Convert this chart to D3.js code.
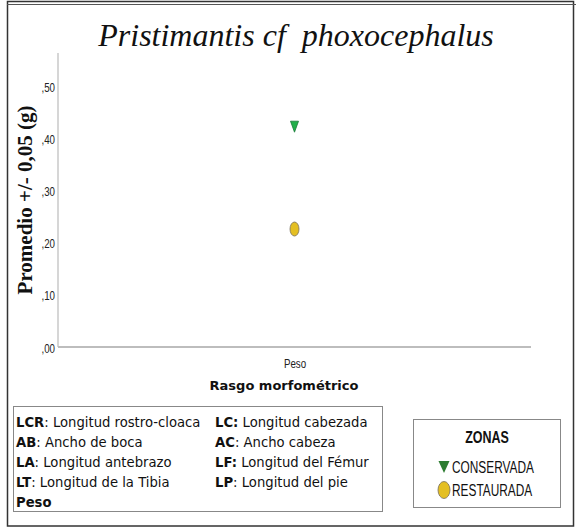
<!DOCTYPE html>
<html><head><meta charset="utf-8">
<script src="https://cdn.jsdelivr.net/npm/d3@7"></script>
<style>body{margin:0;background:#fff}svg{display:block}</style>
</head><body>
<script>
const categories = ["Peso"];
const zones = ["CONSERVADA", "RESTAURADA"];
const conservada = [0.423];
const restaurada = [0.226];
const yTicks = [0, 0.1, 0.2, 0.3, 0.4, 0.5];
const yTickLabels = [",00", ",10", ",20", ",30", ",40", ",50"];
const abbrevLeft = [["LCR", ": Longitud rostro-cloaca"], ["AB", ": Ancho de boca"], ["LA", ": Longitud antebrazo"], ["LT", ": Longitud de la Tibia"], ["Peso", ""]];
const abbrevRight = [["LC:", " Longitud cabezada"], ["AC", ": Ancho cabeza"], ["LF:", " Longitud del Fémur"], ["LP", ": Longitud del pie"]];

const W = 576, H = 529;
const svg = d3.select("body").append("svg").attr("width", W).attr("height", H);
const NARROW = "Liberation Sans Narrow, Liberation Sans, Arial";

// outer frame
svg.append("rect").attr("x", 7.5).attr("y", 1.5).attr("width", 566).attr("height", 524.5)
  .attr("fill", "none").attr("stroke", "#333").attr("stroke-width", 1.5);
svg.append("line").attr("x1", 7).attr("x2", 576).attr("y1", 4.5).attr("y2", 4.5).attr("stroke", "#555").attr("stroke-width", 1);

const x = d3.scalePoint().domain(categories).range([58, 531]).padding(0.5);
const y = d3.scaleLinear().domain([0, 0.5]).range([347, 86]);

// title
svg.append("text").attr("x", 296).attr("y", 46).attr("text-anchor", "middle")
  .attr("font-family", "Liberation Serif").attr("font-style", "italic").attr("font-size", 32)
  .attr("fill", "#111").text("Pristimantis cf\u00a0\u00a0phoxocephalus");

// axes lines
svg.append("line").attr("x1", 58).attr("x2", 58).attr("y1", 53).attr("y2", 347).attr("stroke", "#c8c8c8").attr("stroke-width", 1.5);
svg.append("line").attr("x1", 58).attr("x2", 531).attr("y1", 347).attr("y2", 347).attr("stroke", "#bdbdbd").attr("stroke-width", 2);

// y tick labels
const yAxis = d3.axisLeft(y).tickValues(yTicks).tickSize(0).tickPadding(0)
  .tickFormat((d, i) => yTickLabels[i]);
const gy = svg.append("g").attr("transform", "translate(55,1)").call(yAxis);
gy.select(".domain").remove();
gy.selectAll("text").attr("font-family", NARROW).attr("font-size", 13).attr("fill", "#222")
  .attr("x", 0).attr("transform", "scale(0.75,1)");

// x tick label
const xAxis = d3.axisBottom(x).tickSize(0).tickPadding(0);
const gx = svg.append("g").attr("transform", "translate(0,347)").call(xAxis);
gx.select(".domain").remove();
gx.selectAll(".tick text").attr("font-family", NARROW).attr("font-size", 13).attr("fill", "#222")
  .attr("y", 21).attr("dy", null).attr("transform", "scale(0.75,1)");

// axis titles
svg.append("text").attr("transform", "translate(32,200) rotate(-90)").attr("text-anchor", "middle")
  .attr("font-family", "Liberation Serif").attr("font-weight", "bold").attr("font-size", 21)
  .attr("fill", "#111").text("Promedio +/- 0,05 (g)");
svg.append("text").attr("x", 284).attr("y", 390).attr("text-anchor", "middle")
  .attr("font-family", "DejaVu Sans").attr("font-weight", "bold").attr("font-size", 13)
  .attr("fill", "#111").text("Rasgo morfométrico");

// markers
svg.selectAll(".cons").data(conservada).join("path").attr("class", "cons")
  .attr("d", "M-4,-5 L4,-5 L0,6 Z")
  .attr("transform", (d, i) => `translate(${x(categories[i])},${y(d)})`)
  .attr("fill", "#22b04a").attr("stroke", "#1a7a3a").attr("stroke-width", 0.8);
svg.selectAll(".rest").data(restaurada).join("ellipse").attr("class", "rest")
  .attr("cx", (d, i) => x(categories[i])).attr("cy", d => y(d))
  .attr("rx", 4.5).attr("ry", 7)
  .attr("fill", "#e4bf22").attr("stroke", "#7a7060").attr("stroke-width", 0.8);

// abbreviation legend box
svg.append("rect").attr("x", 13.5).attr("y", 406.5).attr("width", 369).attr("height", 105)
  .attr("fill", "#fff").attr("stroke", "#888").attr("stroke-width", 1);
function writeRows(rows, x0) {
  rows.forEach((r, i) => {
    const t = svg.append("text").attr("x", x0).attr("y", 427 + i * 20)
      .attr("font-family", "DejaVu Sans").attr("font-size", 13.2).attr("fill", "#111");
    t.append("tspan").attr("font-weight", "bold").text(r[0]);
    t.append("tspan").text(r[1]);
  });
}
writeRows(abbrevLeft, 16);
writeRows(abbrevRight, 215);

// zones legend
svg.append("rect").attr("x", 413.5).attr("y", 419.5).attr("width", 147).attr("height", 88)
  .attr("fill", "#fff").attr("stroke", "#888").attr("stroke-width", 1);
svg.append("text").attr("transform", "translate(487,443) scale(0.78,1)").attr("text-anchor", "middle")
  .attr("font-family", NARROW).attr("font-weight", "bold").attr("font-size", 16)
  .attr("fill", "#111").text("ZONAS");
svg.append("path").attr("d", "M-5.5,-6 L5.5,-6 L0,6 Z").attr("transform", "translate(444,467)")
  .attr("fill", "#2e7d32");
svg.append("ellipse").attr("cx", 444).attr("cy", 490).attr("rx", 6).attr("ry", 8.5)
  .attr("fill", "#e4bf22").attr("stroke", "#7a7060").attr("stroke-width", 0.8);
zones.forEach((z, i) => {
  svg.append("text").attr("transform", `translate(452,${473 + i * 23}) scale(0.72,1)`)
    .attr("font-family", NARROW).attr("font-size", 16.5)
    .attr("fill", "#111").text(z);
});
</script>
</body></html>
